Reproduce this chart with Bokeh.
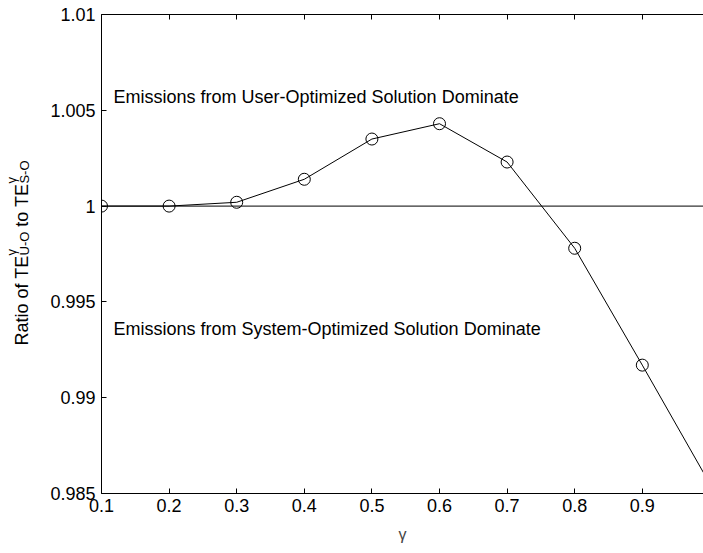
from bokeh.plotting import figure
from bokeh.models import Span, Label, LinearAxis, FixedTicker, Range1d
from bokeh.layouts import row
from bokeh.core.properties import value
from bokeh.embed import file_html
from bokeh.resources import INLINE

gamma = [0.1, 0.2, 0.3, 0.4, 0.5, 0.6, 0.7, 0.8, 0.9, 1.0]
ratio = [1.0, 1.0, 1.0002, 1.0014, 1.0035, 1.0043, 1.0023, 0.9978, 0.9917, 0.9855]
x_ticks = [0.1, 0.2, 0.3, 0.4, 0.5, 0.6, 0.7, 0.8, 0.9]
x_tick_labels = ["0.1", "0.2", "0.3", "0.4", "0.5", "0.6", "0.7", "0.8", "0.9"]
y_ticks = [0.985, 0.99, 0.995, 1.0, 1.005, 1.01]
y_tick_labels = ["0.985", "0.99", "0.995", "1", "1.005", "1.01"]

FONT = "Liberation Sans"
W, H = 703, 553
LW = 40                      # width of the strip that holds the y-axis title
LEFT, TOP, BOTTOM = 101, 14, 60

p = figure(width=W - LW, height=H, output_backend="svg", toolbar_location=None,
           x_range=Range1d(0.1, 0.1 + (W - LEFT) / 676.0), y_range=Range1d(0.985, 1.01),
           min_border_left=LEFT - LW, min_border_right=0, min_border_top=TOP, min_border_bottom=BOTTOM)
p.outline_line_color = None
p.grid.visible = False
p.background_fill_color = "white"
p.border_fill_color = "white"

for ax, ticks, labels in ((p.xaxis[0], x_ticks, x_tick_labels), (p.yaxis[0], y_ticks, y_tick_labels)):
    ax.ticker = FixedTicker(ticks=ticks)
    ax.major_label_overrides = {t: l for t, l in zip(ticks, labels)}
    ax.major_tick_in = 5
    ax.major_tick_out = 0
    ax.minor_tick_line_color = None
    ax.axis_line_color = "black"
    ax.major_tick_line_color = "black"
    ax.major_label_text_font = FONT
    ax.major_label_text_font_size = "18px"
    ax.major_label_text_color = "black"

p.xaxis[0].major_label_standoff = 5
p.yaxis[0].major_label_standoff = 6
p.xaxis[0].axis_label = "γ"
p.xaxis[0].axis_label_text_font = FONT
p.xaxis[0].axis_label_text_font_size = "16px"
p.xaxis[0].axis_label_text_font_style = "normal"
p.xaxis[0].axis_label_standoff = 11

top = LinearAxis(ticker=FixedTicker(ticks=x_ticks), major_tick_in=5, major_tick_out=0,
                 minor_tick_line_color=None, major_label_text_font_size="8px",
                 major_label_overrides={t: "" for t in x_ticks},
                 major_label_standoff=0, axis_line_color="black", major_tick_line_color="black")
p.add_layout(top, "above")

p.add_layout(Span(location=1.0, dimension="width", line_color="black", line_width=1))
p.line(gamma, ratio, line_color="black", line_width=1)
p.scatter(gamma, ratio, size=12, marker="circle", fill_color=None, line_color="black", line_width=1)

p.add_layout(Label(x=0.1178, y=1.0057, text="Emissions from User-Optimized Solution Dominate",
                   text_font=FONT, text_font_size="18px", text_baseline="alphabetic", text_color="black"))
p.add_layout(Label(x=0.1178, y=0.99356, text="Emissions from System-Optimized Solution Dominate",
                   text_font=FONT, text_font_size="18px", text_baseline="alphabetic", text_color="black"))

# strip on the left holding the rotated y-axis title, built from pieces.
# Its frame is aligned with the main frame, so map pixel rows 1:1 (y = H - row).
t = figure(width=LW, height=H, output_backend="svg", toolbar_location=None,
           x_range=Range1d(0, LW), y_range=Range1d(BOTTOM, H - TOP),
           x_axis_location=None, y_axis_location=None,
           min_border_left=0, min_border_right=0, min_border_top=TOP, min_border_bottom=BOTTOM)
t.outline_line_color = None
t.grid.visible = False

widths = {" ": 278, "R": 722, "a": 556, "t": 278, "i": 222, "o": 556, "f": 278, "T": 611,
          "E": 667, "U": 722, "-": 333, "O": 778, "S": 667}
def tw(s, size):
    return sum(widths.get(c, 556) for c in s) * size / 1000.0

F, FS = 18, 13
base_x = 21
pos = H - 345
big_x, big_y, big_t = [], [], []
sm_x, sm_y, sm_t = [], [], []
# (text, size, baseline shift, gap before in units of a space of size F)
for txt, size, dx, gap in [("Ratio of TE", F, 0, 0), ("U-O", FS, 3, 0),
                           ("to TE", F, 0, 1), ("S-O", FS, 3, 0)]:
    pos += gap * tw(" ", F)
    if size == F:
        big_x.append(base_x + dx); big_y.append(pos); big_t.append(txt)
    else:
        sm_x.append(base_x + dx); sm_y.append(pos); sm_t.append(txt)
        sm_x.append(base_x - 10); sm_y.append(pos); sm_t.append("γ")
    pos += tw(txt, size)

t.text(x=big_x, y=big_y, text=big_t, angle=1.5707963, text_font=value(FONT),
       text_font_size="18px", text_baseline="alphabetic", text_align="left", text_color="black")
t.text(x=sm_x, y=sm_y, text=sm_t, angle=1.5707963, text_font=value(FONT),
       text_font_size="13px", text_baseline="alphabetic", text_align="left", text_color="black")

layout = row(t, p, spacing=0)
open("out.html", "w").write(file_html(layout, INLINE))
